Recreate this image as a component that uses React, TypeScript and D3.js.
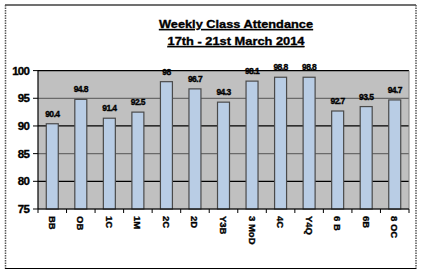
import React from "react";
import * as d3 from "d3";

const categories = ["BB", "OB", "1C", "1M", "2C", "2D", "Y3B", "3 MoD", "4C", "Y4Q", "6 B", "6B", "8 OC"];
const values = [90.4, 94.8, 91.4, 92.5, 98, 96.7, 94.3, 98.1, 98.8, 98.8, 92.7, 93.5, 94.7];
const yTicks = [75, 80, 85, 90, 95, 100];
const titleLines = ["Weekly Class  Attendance", "17th - 21st  March 2014"];

const W = 422;
const H = 275;
const plot = { left: 38, right: 409, top: 70.6, bottom: 209 };

export default function App() {
  const x = d3.scaleBand<string>().domain(categories).range([plot.left, plot.right]).padding(0);
  const y = d3.scaleLinear().domain([75, 100]).range([plot.bottom, plot.top]);
  const step = x.step();
  const barW = step * 0.42;
  const font = "'Liberation Sans', Arial, sans-serif";
  const heavy = { stroke: "#000", strokeWidth: 0.35 };

  return (
    <svg width={W} height={H} style={{ position: "absolute", left: 0, top: 0, background: "#fff" }}>
      {/* outer frame */}
      <line x1={5} y1={5} x2={416} y2={5} stroke="#404040" strokeWidth={1.5} />
      <line x1={5.5} y1={5} x2={5.5} y2={269} stroke="#555" strokeWidth={1.5} strokeDasharray="1.5,1" />
      <line x1={416} y1={5} x2={416} y2={269} stroke="#555" strokeWidth={1.5} strokeDasharray="1.5,1" />
      <line x1={5} y1={268.5} x2={416} y2={268.5} stroke="#000" strokeWidth={1.2} />

      {/* title */}
      {titleLines.map((t, i) => (
        <text
          key={i}
          x={236}
          y={28 + i * 17}
          textAnchor="middle"
          fontFamily={font}
          fontWeight="bold"
          fontSize={11.5}
          textDecoration="underline"
          fill="#000"
          {...heavy}
          textLength={i === 0 ? 154 : 137}
          lengthAdjust="spacingAndGlyphs"
        >
          {t}
        </text>
      ))}

      {/* plot background */}
      <rect x={plot.left} y={plot.top} width={plot.right - plot.left} height={plot.bottom - plot.top} fill="#c0c0c0" />

      {/* gridlines */}
      {yTicks.map((t) => (
        <line
          key={t}
          x1={plot.left}
          x2={plot.right}
          y1={y(t)}
          y2={y(t)}
          stroke={t % 10 === 0 ? "#000" : "#6a6a6a"}
          strokeWidth={1.2}
        />
      ))}
      <line x1={plot.right} x2={plot.right} y1={plot.top} y2={plot.bottom} stroke="#808080" strokeWidth={1} />

      {/* bars */}
      {categories.map((c, i) => {
        const cx = (x(c) as number) + step / 2;
        const top = y(values[i]);
        return (
          <g key={c}>
            <rect
              x={cx - barW / 2}
              y={top}
              width={barW}
              height={plot.bottom - top}
              fill="#b9cde5"
              stroke="#4a4a4a"
              strokeWidth={1.2}
            />
            <text
              x={cx}
              y={top - 7}
              textAnchor="middle"
              fontFamily={font}
              fontWeight="bold"
              fontSize={8.5}
              letterSpacing={-0.6}
              fill="#000"
              {...heavy}
            >
              {values[i]}
            </text>
            <text
              transform={`translate(${cx - 3.5},${216}) rotate(90)`}
              textAnchor="start"
              fontFamily={font}
              fontWeight="bold"
              fontSize={9.5}
              fill="#000"
              {...heavy}
            >
              {c}
            </text>
          </g>
        );
      })}

      {/* axes */}
      <line x1={plot.left} x2={plot.left} y1={plot.top} y2={plot.bottom} stroke="#000" strokeWidth={1.2} />
      <line x1={plot.left} x2={plot.right} y1={plot.bottom} y2={plot.bottom} stroke="#000" strokeWidth={1.2} />
      {d3.range(categories.length + 1).map((i) => {
        const xx = plot.left + i * step;
        return <line key={i} x1={xx} x2={xx} y1={plot.bottom} y2={plot.bottom + 4} stroke="#000" strokeWidth={1} />;
      })}
      {yTicks.map((t) => (
        <g key={t}>
          <line x1={plot.left - 5} x2={plot.left} y1={y(t)} y2={y(t)} stroke="#000" strokeWidth={1} />
          <text
            x={29}
            y={y(t) + 4}
            textAnchor="end"
            fontFamily={font}
            fontWeight="bold"
            fontSize={11.5}
            letterSpacing={-0.8}
            fill="#000"
            {...heavy}
          >
            {t}
          </text>
        </g>
      ))}
    </svg>
  );
}
